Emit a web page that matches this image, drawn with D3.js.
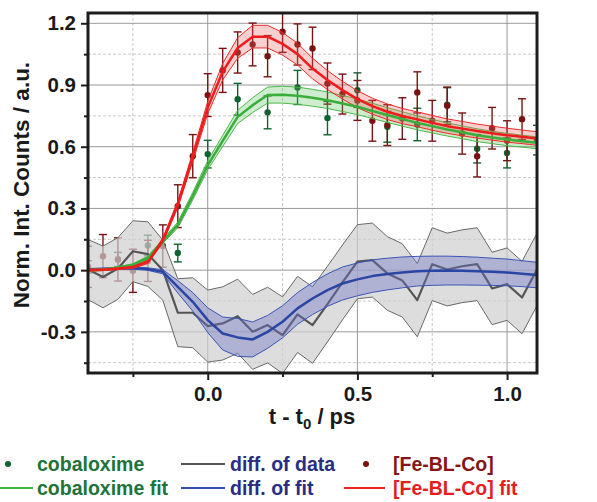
<!DOCTYPE html>
<html>
<head>
<meta charset="utf-8">
<script src="https://cdn.jsdelivr.net/npm/d3@7"></script>
<style>
  body { margin: 0; background: #fff; }
  svg { display: block; font-family: "Liberation Sans", Arial, sans-serif; font-weight: bold; }
</style>
</head>
<body>
<svg id="chart" width="597" height="502"></svg>
<script>
// time grid of the fits and differences (ps)
const fitT = [-0.4, -0.35, -0.3, -0.25, -0.2, -0.15, -0.1, -0.05, 0, 0.05, 0.1, 0.15, 0.2, 0.25, 0.3,
  0.35, 0.4, 0.45, 0.5, 0.55, 0.6, 0.65, 0.7, 0.75, 0.8, 0.85, 0.9, 0.95, 1.0, 1.05, 1.1];

// cobaloxime data
const coT = [-0.4, -0.3, -0.2, -0.1, 0, 0.1, 0.2, 0.3, 0.4, 0.5, 0.6, 0.7, 0.8, 0.9, 1.0, 1.1];
const coV = [0.016, 0.052, 0.12, 0.083, 0.564, 0.831, 0.767, 0.888, 0.739, 0.875, 0.697, 0.708, 0.804, 0.59, 0.57, 0.632];
const coErr = [0.03, 0.034, 0.05, 0.043, 0.067, 0.077, 0.08, 0.083, 0.081, 0.084, 0.075, 0.079, 0.083, 0.069, 0.073, 0.072];

// [Fe-BL-Co] data
const feT = [-0.4, -0.35, -0.3, -0.25, -0.2, -0.15, -0.1, -0.05, 0, 0.05, 0.1, 0.15, 0.2, 0.25, 0.3,
  0.35, 0.4, 0.45, 0.5, 0.55, 0.6, 0.65, 0.7, 0.75, 0.8, 0.85, 0.9, 0.95, 1.0, 1.05];
const feV = [0.016, 0.068, 0.052, -0.003, 0.045, 0.117, 0.311, 0.554, 0.851, 0.971, 1.058, 1.097, 1.04, 1.159, 1.097,
  1.078, 0.907, 0.856, 0.825, 0.726, 0.705, 0.737, 0.864, 0.726, 0.799, 0.664, 0.554, 0.69, 0.629, 0.734];
const feErr = [0.1, 0.105, 0.105, 0.105, 0.1, 0.103, 0.104, 0.105, 0.104, 0.107, 0.1, 0.104, 0.1, 0.1, 0.1,
  0.103, 0.1, 0.097, 0.097, 0.099, 0.099, 0.101, 0.1, 0.099, 0.091, 0.1, 0.101, 0.101, 0.097, 0.099];

// fits with confidence half-widths
const coFit = [0, 0.002, 0.012, 0.025, 0.06, 0.14, 0.22, 0.36, 0.51, 0.628, 0.745, 0.802, 0.851, 0.853, 0.848,
  0.838, 0.826, 0.81, 0.794, 0.774, 0.754, 0.735, 0.716, 0.7, 0.684, 0.67, 0.656, 0.645, 0.635, 0.627, 0.619];
const coFitErr = [0.004, 0.004, 0.005, 0.006, 0.008, 0.01, 0.014, 0.018, 0.022, 0.027, 0.032, 0.036, 0.039, 0.041, 0.042,
  0.041, 0.04, 0.039, 0.038, 0.037, 0.036, 0.035, 0.034, 0.033, 0.032, 0.031, 0.031, 0.03, 0.03, 0.029, 0.029];
const feFit = [0, 0.002, 0.008, 0.015, 0.04, 0.145, 0.32, 0.55, 0.79, 0.965, 1.08, 1.135, 1.135, 1.1, 1.05,
  0.98, 0.924, 0.875, 0.831, 0.797, 0.77, 0.749, 0.733, 0.716, 0.7, 0.688, 0.676, 0.666, 0.656, 0.648, 0.64];
const feFitErr = [0.004, 0.004, 0.005, 0.006, 0.008, 0.012, 0.016, 0.022, 0.03, 0.04, 0.05, 0.055, 0.055, 0.055, 0.053,
  0.05, 0.046, 0.043, 0.041, 0.039, 0.038, 0.037, 0.036, 0.036, 0.035, 0.035, 0.034, 0.034, 0.034, 0.033, 0.033];

// differences
const diffData = [0.003, -0.033, 0.008, 0.092, 0.078, 0, -0.207, -0.207, -0.272, -0.259, -0.224, -0.3, -0.267, -0.316, -0.215,
  -0.267, -0.165, -0.06, 0.041, 0.049, -0.016, -0.05, -0.146, 0.029, 0.003, 0.019, 0.029, -0.089, -0.068, -0.133, 0.003];
const diffDataErr = [0.146, 0.15, 0.15, 0.148, 0.157, 0.146, 0.165, 0.17, 0.175, 0.178, 0.18, 0.182, 0.184, 0.186, 0.185,
  0.186, 0.184, 0.182, 0.18, 0.18, 0.179, 0.178, 0.178, 0.177, 0.177, 0.177, 0.177, 0.176, 0.176, 0.176, 0.176];
const diffFit = [0.003, 0.005, 0.008, 0.01, 0.005, -0.008, -0.081, -0.154, -0.243, -0.308, -0.327, -0.337, -0.3, -0.251, -0.186,
  -0.138, -0.097, -0.065, -0.045, -0.029, -0.019, -0.011, -0.005, -0.003, -0.002, -0.003, -0.005, -0.008, -0.011, -0.017, -0.024];
const diffFitErr = [0.005, 0.005, 0.005, 0.005, 0.006, 0.01, 0.03, 0.045, 0.06, 0.08, 0.092, 0.085, 0.08, 0.078, 0.077,
  0.078, 0.079, 0.08, 0.08, 0.079, 0.077, 0.075, 0.072, 0.071, 0.07, 0.069, 0.068, 0.066, 0.065, 0.063, 0.062];

const yMajor = [-0.3, 0, 0.3, 0.6, 0.9, 1.2];
const yMinor = [-0.45, -0.15, 0.15, 0.45, 0.75, 1.05];
const xMajor = [0, 0.5, 1.0];
const xMinor = [-0.25, 0.25, 0.75];

const svg = d3.select("#chart");
const pL = 88, pR = 537, pT = 13, pB = 373;

const x = d3.scaleLinear().domain([-0.4, 1.1]).range([pL, pR]);
const y = d3.scaleLinear().domain([-0.5, 1.25]).range([pB, pT]);

svg.append("clipPath").attr("id", "plot")
  .append("rect").attr("x", pL).attr("y", pT).attr("width", pR - pL).attr("height", pB - pT);

// grid
const grid = svg.append("g");
grid.selectAll(".gy").data(yMinor).join("line")
  .attr("x1", pL).attr("x2", pR).attr("y1", d => y(d)).attr("y2", d => y(d))
  .attr("stroke", "#c8c8c8").attr("stroke-dasharray", "3,2");
grid.selectAll(".gx").data(xMinor).join("line")
  .attr("y1", pT).attr("y2", pB).attr("x1", d => x(d)).attr("x2", d => x(d))
  .attr("stroke", "#c8c8c8").attr("stroke-dasharray", "3,2");
grid.selectAll(".my").data(yMajor).join("line")
  .attr("x1", pL).attr("x2", pR).attr("y1", d => y(d)).attr("y2", d => y(d))
  .attr("stroke", "#999");
grid.selectAll(".mx").data(xMajor).join("line")
  .attr("y1", pT).attr("y2", pB).attr("x1", d => x(d)).attr("x2", d => x(d))
  .attr("stroke", "#999");

const plot = svg.append("g").attr("clip-path", "url(#plot)");

// data points with error bars
function drawPoints(ts, vs, es, color) {
  const g = plot.append("g");
  const pts = ts.map((t, i) => ({ t, v: vs[i], e: es[i] }));
  const bars = g.selectAll("g").data(pts).join("g").attr("stroke", color).attr("stroke-width", 1.4);
  bars.append("line").attr("x1", d => x(d.t)).attr("x2", d => x(d.t))
    .attr("y1", d => y(d.v - d.e)).attr("y2", d => y(d.v + d.e));
  bars.append("line").attr("x1", d => x(d.t) - 4).attr("x2", d => x(d.t) + 4)
    .attr("y1", d => y(d.v - d.e)).attr("y2", d => y(d.v - d.e));
  bars.append("line").attr("x1", d => x(d.t) - 4).attr("x2", d => x(d.t) + 4)
    .attr("y1", d => y(d.v + d.e)).attr("y2", d => y(d.v + d.e));
  g.selectAll("circle").data(pts).join("circle")
    .attr("cx", d => x(d.t)).attr("cy", d => y(d.v)).attr("r", 3.2).attr("fill", color);
}
drawPoints(coT, coV, coErr, "#0f6330");
drawPoints(feT, feV, feErr, "#7a1212");

// band + center line
function drawBand(vals, errs, fill, opacity, edge, lineColor, lineWidth) {
  const rows = fitT.map((t, i) => ({ t, v: vals[i], e: errs[i] }));
  plot.append("path").datum(rows)
    .attr("d", d3.area().x(d => x(d.t)).y0(d => y(d.v - d.e)).y1(d => y(d.v + d.e)))
    .attr("fill", fill).attr("fill-opacity", opacity);
  [-1, 1].forEach(s => {
    plot.append("path").datum(rows)
      .attr("d", d3.line().x(d => x(d.t)).y(d => y(d.v + s * d.e)))
      .attr("fill", "none").attr("stroke", edge).attr("stroke-width", 1);
  });
  return () => plot.append("path").datum(rows)
    .attr("d", d3.line().x(d => x(d.t)).y(d => y(d.v)))
    .attr("fill", "none").attr("stroke", lineColor).attr("stroke-width", lineWidth)
    .attr("stroke-linejoin", "round");
}

drawBand(diffData, diffDataErr, "#cfcfcf", 0.7, "#6a6a6a", "#555", 2.2)();
drawBand(diffFit, diffFitErr, "#6e72c8", 0.4, "#3b55b5", "#2b45a3", 2.5)();
const coLine = drawBand(coFit, coFitErr, "#5cc05c", 0.3, "#4cb84c", "#3aae3a", 2.5);
const feLine = drawBand(feFit, feFitErr, "#f06060", 0.3, "#ee2a2a", "#ee1c1c", 2.5);
coLine();
feLine();

// frame
svg.append("rect").attr("x", pL).attr("y", pT).attr("width", pR - pL).attr("height", pB - pT)
  .attr("fill", "none").attr("stroke", "#1c1c1c").attr("stroke-width", 3);

// axes
const fontTick = "20.5px";
const yAx = svg.append("g").attr("transform", `translate(${pL - 1},0)`)
  .call(d3.axisLeft(y).tickValues(yMajor).tickSize(6).tickPadding(5).tickFormat(d3.format(".1f")));
svg.append("g").attr("transform", `translate(${pL - 1},0)`)
  .call(d3.axisLeft(y).tickValues(yMinor).tickSize(3).tickFormat(""));
const xAx = svg.append("g").attr("transform", `translate(0,${pB + 1})`)
  .call(d3.axisBottom(x).tickValues(xMajor).tickSize(6).tickPadding(6).tickFormat(d3.format(".1f")));
svg.append("g").attr("transform", `translate(0,${pB + 1})`)
  .call(d3.axisBottom(x).tickValues(xMinor).tickSize(3).tickFormat(""));
svg.selectAll(".domain").remove();
svg.selectAll(".tick line").attr("stroke", "#1c1c1c").attr("stroke-width", 2);
svg.selectAll(".tick text").attr("fill", "#1a1a1a").style("font-size", fontTick)
  .style("font-family", "'Liberation Sans', Arial, sans-serif").style("font-weight", "bold");
yAx.selectAll(".tick text").text(d => d3.format(".1f")(d).replace("−", "-"));

// axis titles
svg.append("text")
  .attr("transform", `translate(29,${(pT + pB) / 2 - 8}) rotate(-90)`)
  .attr("text-anchor", "middle").attr("fill", "#1a1a1a").style("font-size", "22.5px")
  .text("Norm. Int. Counts / a.u.");
const xt = svg.append("text").attr("x", 312).attr("y", 424).attr("text-anchor", "middle")
  .attr("fill", "#1a1a1a").style("font-size", "22px");
xt.append("tspan").text("t - t");
xt.append("tspan").attr("dy", 5).style("font-size", "15px").text("0");
xt.append("tspan").attr("dy", -5).text(" / ps");

// legend
const legend = [
  { label: "cobaloxime", type: "dot", color: "#0f6330", text: "#1d7438", x: 8, len: 0, tx: 37, row: 0 },
  { label: "diff. of data", type: "line", color: "#555", text: "#2a2d82", x: 181, len: 44, tx: 230, row: 0 },
  { label: "[Fe-BL-Co]", type: "dot", color: "#7a1212", text: "#861515", x: 366, len: 0, tx: 393, row: 0 },
  { label: "cobaloxime fit", type: "line", color: "#44b544", text: "#1d7438", x: 0, len: 33, tx: 37, row: 1 },
  { label: "diff. of fit", type: "line", color: "#3550b0", text: "#2a2d82", x: 181, len: 44, tx: 230, row: 1 },
  { label: "[Fe-BL-Co] fit", type: "line", color: "#ee2020", text: "#e41e1e", x: 344, len: 41, tx: 393, row: 1 }
];
const rowY = [464, 488];
const lg = svg.append("g");
legend.forEach(d => {
  const cy = rowY[d.row];
  if (d.type === "dot") {
    lg.append("circle").attr("cx", d.x).attr("cy", cy).attr("r", 3).attr("fill", d.color);
  } else {
    lg.append("line").attr("x1", d.x).attr("x2", d.x + d.len).attr("y1", cy).attr("y2", cy)
      .attr("stroke", d.color).attr("stroke-width", 2);
  }
  lg.append("text").attr("x", d.tx).attr("y", cy + 7).attr("fill", d.text)
    .style("font-size", "19.5px").text(d.label);
});
</script>
</body>
</html>
